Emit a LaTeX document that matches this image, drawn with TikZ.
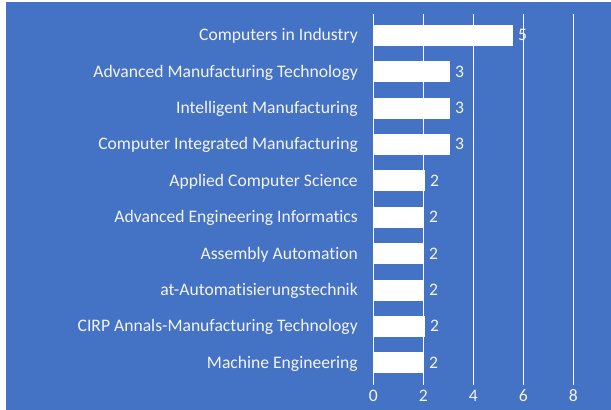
\documentclass[tikz,border=0pt]{standalone}
\usepackage{fontspec}
\setmainfont{Carlito}[RawFeature={-liga;-clig;-dlig;-calt;-ccmp}]
\definecolor{bgblue}{HTML}{4472C4}
\definecolor{txt}{HTML}{F4F4F4}
\begin{document}
\begin{tikzpicture}[x=1pt,y=-1pt,
  grid/.style={draw=white,line width=0.9pt},
  barbox/.style={fill=white,draw=none},
  cat/.style={anchor=base east,text=txt,font=\fontsize{17.6}{20}\selectfont,inner sep=0pt},
  val/.style={anchor=base,text=txt,font=\fontsize{17.6}{20}\selectfont,inner sep=0pt},
  tick/.style={anchor=base,text=txt,font=\fontsize{17.6}{20}\selectfont,inner sep=0pt}]
\useasboundingbox (0,0) rectangle (611,410);
\fill[white] (0,0) rectangle (611,410);
\fill[bgblue] (6,2) rectangle (611,410);
% gridlines
\foreach \k/\lab in {0/0,1/2,2/4,3/6,4/8}{
  \draw[grid] ({373.3+50*\k},14) -- ({373.3+50*\k},385);
  \node[tick] (t\k) at ({373.3+50*\k},401.7) {\lab};
}
% bars
\foreach \i/\name/\e/\v in {
  0/Computers in Industry/513/5,
  1/Advanced Manufacturing Technology/450/3,
  2/Intelligent Manufacturing/450/3,
  3/Computer Integrated Manufacturing/450/3,
  4/Applied Computer Science/425/2,
  5/Advanced Engineering Informatics/424/2,
  6/Assembly Automation/424/2,
  7/at-Automatisierungstechnik/424/2,
  8/CIRP Annals-Manufacturing Technology/425/2,
  9/Machine Engineering/424/2}{
  \pgfmathsetmacro\yc{35.3+36.4*\i}
  \fill[barbox] (373.3,\yc-10.5) rectangle (\e,\yc+10.5);
  \node[cat] (c\i) at (358,\yc+5.4) {\name};
  \node[val] (v\i) at (\e+9.5,\yc+5.4) {\v};
}
\end{tikzpicture}
\end{document}
